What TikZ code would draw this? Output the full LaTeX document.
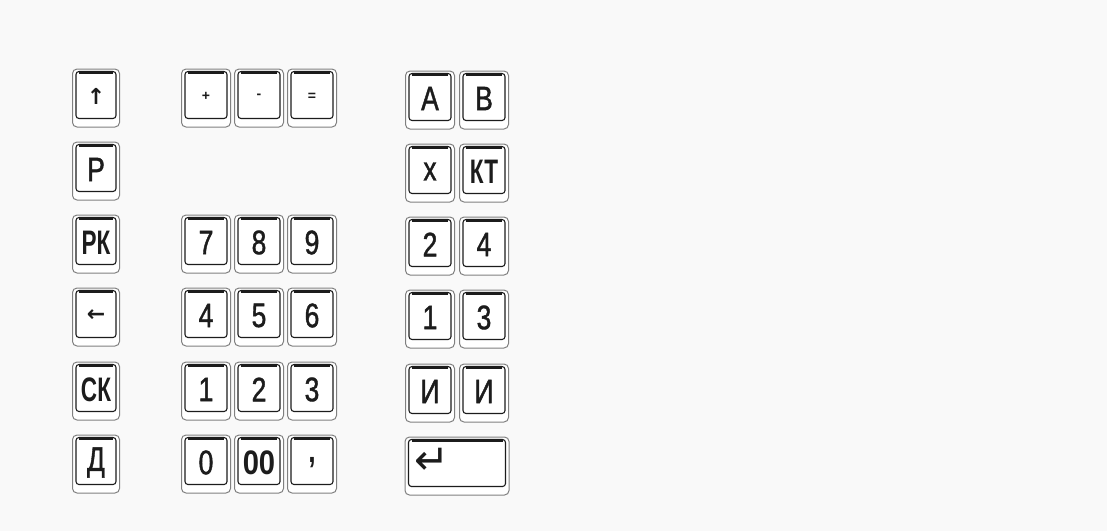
\documentclass[tikz,border=0pt]{standalone}
\usepackage{fontspec}
\setmainfont{Liberation Sans}
\newfontfamily\keyfont[FakeStretch=0.78,FakeBold=1.2]{Liberation Sans}
\newfontfamily\keyfontb[FakeStretch=0.78]{Liberation Sans Bold}
\newfontfamily\symfont{DejaVu Sans}
\usetikzlibrary{calc}
\definecolor{paper}{RGB}{249,249,249}
\definecolor{ink}{RGB}{28,28,28}
\tikzset{
  keyout/.style={draw=black!50, line width=1pt, rounded corners=4.5pt, minimum height=58pt, inner sep=0pt, fill=white},
  keyin/.style={draw=ink, line width=1.1pt, rounded corners=3pt},
  keytop/.style={draw=ink, line width=2.4pt},
  lbl/.style={font=\keyfont\fontsize{34}{34}\selectfont, text=ink, inner sep=0pt},
  bold/.style={font=\keyfontb\fontsize{34}{34}\selectfont},
  small/.style={font=\bfseries\fontsize{14}{14}\selectfont},
  arrowlbl/.style={font=\symfont\bfseries\fontsize{22}{22}\selectfont},
}
\newcommand\kbkey[6]{%
  \node[keyout, minimum width=#4pt] (#1) at (#2,#3) {};
  \draw[keyin] ($(#1.north west)+(4,3)$) rectangle ($(#1.south east)+(-4,-9)$);
  \draw[keytop] ($(#1.north west)+(7,4)$) -- ($(#1.north east)+(-7,4)$);
  \node[lbl,#5] (#1-t) at ($(#1.center)+(0,-1.5)$) {#6};
}
\begin{document}
\begin{tikzpicture}[x=1pt,y=-1pt]
\fill[paper] (0,0) rectangle (1107,531);
\useasboundingbox (0,0) rectangle (1107,531);
% left column
\kbkey{up}{96}{98}{47}{arrowlbl}{↑}
\kbkey{r}{96}{171}{47}{}{Р}
\kbkey{rk}{96}{244}{47}{bold}{\scalebox{0.85}[1]{РК}}
\kbkey{left}{96}{317}{47}{arrowlbl}{←}
\kbkey{sk}{96}{391}{47}{bold}{\scalebox{0.85}[1]{СК}}
\kbkey{d}{96}{464}{47}{}{Д}
% middle column
\kbkey{plus}{206}{98}{49}{small}{+}
\kbkey{minus}{259}{98}{49}{small}{-}
\kbkey{eq}{312}{98}{49}{small}{=}
\kbkey{k7}{206}{244}{49}{}{7}
\kbkey{k8}{259}{244}{49}{}{8}
\kbkey{k9}{312}{244}{49}{}{9}
\kbkey{k4}{206}{317}{49}{}{4}
\kbkey{k5}{259}{317}{49}{}{5}
\kbkey{k6}{312}{317}{49}{}{6}
\kbkey{k1}{206}{391}{49}{}{1}
\kbkey{k2}{259}{391}{49}{}{2}
\kbkey{k3}{312}{391}{49}{}{3}
\kbkey{k0}{206}{464}{49}{}{0}
\kbkey{k00}{259}{464}{49}{bold}{\scalebox{1.1}[1]{00}}
\kbkey{comma}{312}{464}{49}{bold}{,}
% right column
\kbkey{a}{430}{100}{49}{}{А}
\kbkey{b}{484}{100}{49}{}{В}
\kbkey{mul}{430}{173}{49}{}{х}
\kbkey{kt}{484}{173}{49}{bold}{\scalebox{0.85}[1]{КТ}}
\kbkey{r2}{430}{246}{49}{}{2}
\kbkey{r4}{484}{246}{49}{}{4}
\kbkey{r1}{430}{319}{49}{}{1}
\kbkey{r3}{484}{319}{49}{}{3}
\kbkey{i1}{430}{393}{49}{}{И}
\kbkey{i2}{484}{393}{49}{}{И}
\node[keyout, minimum width=104pt] (enter) at (457,466) {};
\draw[keyin] ($(enter.north west)+(4,3)$) rectangle ($(enter.south east)+(-4,-9)$);
\draw[keytop] ($(enter.north west)+(7,4)$) -- ($(enter.north east)+(-7,4)$);
\node[lbl, font=\symfont\fontsize{42}{42}\selectfont, anchor=west] (enter-t) at ($(enter.west)+(10,-5)$) {↵};
\end{tikzpicture}
\end{document}
